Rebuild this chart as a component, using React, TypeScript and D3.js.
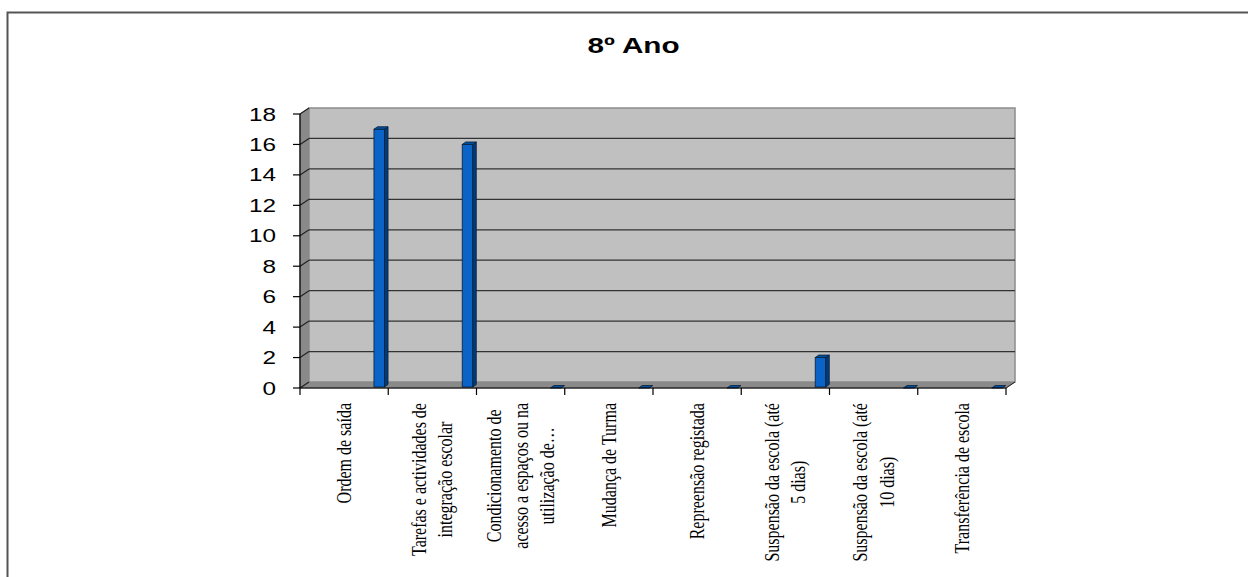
import React, { useEffect, useRef } from "react";
import * as d3 from "d3";

const title = "8º Ano";
const categories: string[][] = [
  ["Ordem de saída"],
  ["Tarefas e actividades de", "integração escolar"],
  ["Condicionamento de", "acesso a espaços ou na", "utilização  de…"],
  ["Mudança de Turma"],
  ["Repreensão registada"],
  ["Suspensão da escola (até", "5 dias)"],
  ["Suspensão da escola (até", "10 dias)"],
  ["Transferência de escola"],
];
const values: number[] = [17, 16, 0, 0, 0, 2, 0, 0];
const yTicks: number[] = [0, 2, 4, 6, 8, 10, 12, 14, 16, 18];

export default function App() {
  const ref = useRef<SVGSVGElement | null>(null);

  useEffect(() => {
    const svg = d3.select(ref.current);
    svg.selectAll("*").remove();

    const W = 1248, H = 577;
    const x0 = 300, x1 = 1006, yBase = 388, yTop = 114;
    const DX = 9, DY = -6;
    const SX = 1.35;

    const x = d3.scaleBand<number>().domain(d3.range(categories.length)).range([x0, x1]).padding(0);
    const y = d3.scaleLinear().domain([0, 18]).range([yBase, yTop]);

    // frame
    svg.append("rect").attr("x", 7.5).attr("y", 12.5).attr("width", W + 10).attr("height", H + 10)
      .attr("fill", "#fff").attr("stroke", "#555").attr("stroke-width", 2);

    // title
    svg.append("text").attr("transform", `translate(633.5,53) scale(${SX},1)`)
      .attr("text-anchor", "middle").attr("font-family", "Liberation Sans, Arial, sans-serif")
      .attr("font-weight", "bold").attr("font-size", 22).attr("fill", "#000").text(title);

    const g = svg.append("g");
    // left wall
    g.append("polygon").attr("points", [[x0, yBase], [x0, y(18)], [x0 + DX, y(18) + DY], [x0 + DX, yBase + DY]].map(p => p.join(",")).join(" "))
      .attr("fill", "#8a8a8a").attr("stroke", "#777").attr("stroke-width", 1);
    // floor
    g.append("polygon").attr("points", [[x0, yBase], [x0 + DX, yBase + DY], [x1 + DX, yBase + DY], [x1, yBase]].map(p => p.join(",")).join(" "))
      .attr("fill", "#8a8a8a").attr("stroke", "#777").attr("stroke-width", 1);
    // back wall
    g.append("rect").attr("x", x0 + DX).attr("y", y(18) + DY).attr("width", x1 - x0)
      .attr("height", yBase - y(18)).attr("fill", "#c0c0c0").attr("stroke", "#8c8c8c").attr("stroke-width", 1.5);

    // gridlines
    yTicks.filter(t => t > 0 && t < 18).forEach(t => {
      g.append("line").attr("x1", x0 + DX).attr("x2", x1 + DX).attr("y1", y(t) + DY).attr("y2", y(t) + DY)
        .attr("stroke", "#333").attr("stroke-width", 1.3);
    });
    yTicks.forEach(t => {
      g.append("line").attr("x1", x0).attr("x2", x0 + DX).attr("y1", y(t)).attr("y2", y(t) + DY)
        .attr("stroke", "#222").attr("stroke-width", 1.2);
      g.append("line").attr("x1", x0 - 7).attr("x2", x0).attr("y1", y(t)).attr("y2", y(t))
        .attr("stroke", "#000").attr("stroke-width", 1.2);
      g.append("text").attr("transform", `translate(276,${y(t) + 6.5}) scale(${SX},1)`)
        .attr("text-anchor", "end").attr("font-family", "Liberation Sans, Arial, sans-serif")
        .attr("font-size", 18).attr("fill", "#000").text(String(t));
    });

    // bars
    const bw = x.bandwidth();
    const bdx = 3.5, bdy = -2.5;
    values.forEach((v, i) => {
      const bx = (x(i) as number) + bw * 0.838;
      const w = bw * 0.12;
      const top = y(v), bot = y(0) - 1;
      if (v > 0) {
        g.append("rect").attr("x", bx).attr("y", top).attr("width", w).attr("height", bot - top)
          .attr("fill", "#0a64c8").attr("stroke", "#0b1f3a").attr("stroke-width", 0.8);
        g.append("polygon").attr("points", [[bx + w, top], [bx + w + bdx, top + bdy], [bx + w + bdx, bot + bdy], [bx + w, bot]].map(p => p.join(",")).join(" "))
          .attr("fill", "#003c7a").attr("stroke", "#0b1f3a").attr("stroke-width", 0.8);
      }
      g.append("polygon").attr("points", [[bx, top], [bx + bdx, top + bdy], [bx + w + bdx, top + bdy], [bx + w, top]].map(p => p.join(",")).join(" "))
        .attr("fill", "#0050a0").attr("stroke", "#0b1f3a").attr("stroke-width", 0.8);
    });

    // axes lines
    g.append("line").attr("x1", x0).attr("x2", x1).attr("y1", yBase).attr("y2", yBase).attr("stroke", "#000").attr("stroke-width", 1.2);
    g.append("line").attr("x1", x0).attr("x2", x0).attr("y1", y(18)).attr("y2", yBase).attr("stroke", "#000").attr("stroke-width", 1.2);
    g.append("line").attr("x1", x1).attr("x2", x1 + DX).attr("y1", yBase).attr("y2", yBase + DY).attr("stroke", "#222").attr("stroke-width", 1);
    d3.range(categories.length + 1).forEach(i => {
      const xx = x0 + i * bw;
      g.append("line").attr("x1", xx).attr("x2", xx).attr("y1", yBase).attr("y2", yBase + 7).attr("stroke", "#000").attr("stroke-width", 1.2);
    });

    // category labels
    const fs = 16, lh = 19.5;
    categories.forEach((lines, i) => {
      const cx = (x(i) as number) + bw / 2;
      const grp = g.append("g");
      const texts = lines.map(l => grp.append("text").attr("font-family", "Liberation Serif, Times New Roman, serif")
        .attr("font-size", fs).attr("fill", "#000").attr("text-anchor", "middle").text(l));
      const maxLen = d3.max(texts, t => (t.node() as SVGTextElement).getComputedTextLength()) || 0;
      const cy = 403 + maxLen / 2;
      const k = lines.length;
      texts.forEach((t, j) => {
        const off = (j - (k - 1) / 2) * lh + 0.32 * fs;
        t.attr("transform", `translate(${cx},${cy}) scale(${SX},1) rotate(-90) translate(0,${off})`);
      });
    });
  }, []);

  return (
    <svg ref={ref} width={1248} height={577}
      style={{ position: "absolute", left: 0, top: 0, background: "#fff" }} />
  );
}
